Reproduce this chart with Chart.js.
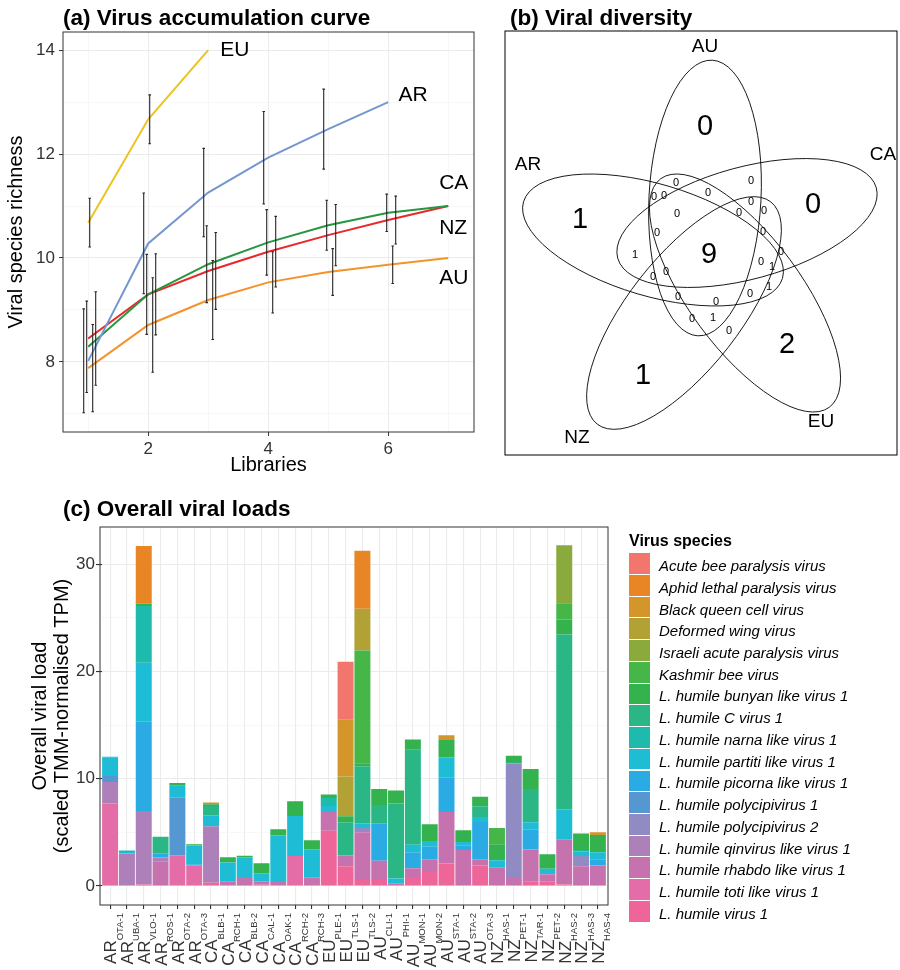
<!DOCTYPE html>
<html>
<head>
<meta charset="utf-8">
<script src="https://cdn.jsdelivr.net/npm/chart.js@4.4.1/dist/chart.umd.min.js"></script>
<style>
  body { margin: 0; background: #fff; font-family: "Liberation Sans", Arial, Helvetica, sans-serif; }
  #wrap { position: relative; width: 900px; height: 970px; overflow: hidden; }
  canvas { position: absolute; }
  #curve { left: 0; top: 0; }
  #venn { left: 490px; top: 0; }
  #loads { left: 0; top: 480px; }
  #legend { position: absolute; left: 629px; top: 531px; color: #000; }
  #legend .ttl { font-weight: bold; font-size: 16px; line-height: 20px; height: 22.3px; }
  #legend .item { display: flex; align-items: center; height: 21.73px; }
  #legend .box { width: 21px; height: 20.7px; margin-bottom: 1px; }
  #legend .txt { font-style: italic; font-size: 15px; margin-left: 9px; padding-top: 3px; }
</style>
</head>
<body>
<div id="wrap">
  <canvas id="curve" width="490" height="480"></canvas>
  <canvas id="venn" width="410" height="480"></canvas>
  <canvas id="loads" width="900" height="490"></canvas>
  <div id="legend"></div>
</div>
<script>
// (a) accumulation curves ---------------------
const libraries = [1, 2, 3, 4, 5, 6, 7];
const richnessAR = [8.02, 10.28, 11.26, 11.93, 12.48, 13.0];
const richnessAU = [7.88, 8.71, 9.19, 9.53, 9.73, 9.87, 10.0];
const richnessCA = [8.29, 9.3, 9.88, 10.3, 10.63, 10.87, 11.0];
const richnessEU = [10.68, 12.67, 14.0];
const richnessNZ = [8.45, 9.3, 9.75, 10.12, 10.44, 10.73, 11.0];
const sdAR = [1.0, 0.97, 0.85, 0.89, 0.77, null];
const sdAU = [0.84, 0.91, 0.76, 0.59, 0.45, 0.36, null];
const sdCA = [0.88, 0.77, 0.74, 0.63, 0.48, 0.36, null];
const sdEU = [0.47, 0.47, null];
const sdNZ = [0.9, 0.78, 0.74, 0.68, 0.59, 0.46, null];

// (b) venn counts -----------------------------
const vennSets = ["AU", "CA", "EU", "NZ", "AR"];
const uniqueCounts = [0, 0, 2, 1, 1]; // same order as vennSets
const sharedByAll = 9;
const overlapCounts = [0, 0, 0, 0, 0, 0, 0, 0, 0, 0, 0, 1, 0, 0, 1, 0, 0, 1, 0, 0, 0, 0, 1, 0];

// (c) viral loads -----------------------------
const regions = ["AR", "AR", "AR", "AR", "AR", "AR", "CA", "CA", "CA", "CA", "CA", "CA", "CA",
  "EU", "EU", "EU", "AU", "AU", "AU", "AU", "AU", "AU", "AU", "NZ", "NZ", "NZ", "NZ", "NZ", "NZ", "NZ"];
const sites = ["OTA-1", "UBA-1", "VLO-1", "ROS-1", "OTA-2", "OTA-3", "BLB-1", "RCH-1", "BLB-2", "CAL-1",
  "OAK-1", "RCH-2", "RCH-3", "PLE-1", "TLS-1", "TLS-2", "CLI-1", "PHI-1", "MON-1", "MON-2", "STA-1",
  "STA-2", "OTA-3", "HAS-1", "PET-1", "TAR-1", "PET-2", "HAS-2", "HAS-3", "HAS-4"];
const species = ["Acute bee paralysis virus", "Aphid lethal paralysis virus", "Black queen cell virus",
  "Deformed wing virus", "Israeli acute paralysis virus", "Kashmir bee virus", "L. humile bunyan like virus 1",
  "L. humile C virus 1", "L. humile narna like virus 1", "L. humile partiti like virus 1",
  "L. humile picorna like virus 1", "L. humile polycipivirus 1", "L. humile polycipivirus 2",
  "L. humile qinvirus like virus 1", "L. humile rhabdo like virus 1", "L. humile toti like virus 1",
  "L. humile virus 1"];
const abpv = [0,0,0,0,0,0,0,0,0,0,0,0,0,0,5.4,0,0,0,0,0,0,0,0,0,0,0,0,0,0,0];
const alpv = [0,0,5.4,0,0,0,0.18,0,0,0,0,0,0,0,0,5.4,0,0,0,0,0,0,0,0,0,0,0,0,0,0];
const bqcv = [0,0,0,0,0,0,0,0,0,0,0,0,0,0,5.3,0,0,0,0,0,0.45,0,0,0,0,0,0,0,0,0.25];
const dwv = [0,0,0,0,0,0,0,0,0,0,0,0,0,0,3.7,3.9,0,0,0,0,0,0,0,0,0,0,0,0,0,0];
const iapv = [0,0,0,0,0,0,0,0,0,0,0,0,0,0,0,0,0,0,0,0,0,0,0,0,0,0,0,5.4,0,0];
const kbv = [0,0,0,0,0,0,0,0,0,0,0,0,0,0,0,10.5,0,0,0,0,0,0,0,1.5,0,0,0,1.5,0,0];
const bunyan = [0,0,0.2,0,0.25,0.13,0.15,0.47,0.15,0.94,0.56,1.37,0.84,0.34,0.55,0.3,1.5,1.2,0.95,1.55,1.6,1.1,0.9,1.5,0.6,1.85,1.35,1.4,1.55,1.6];
const cVirus = [0,0,0,1.55,0,0,0.87,0,0,0,0,0,0,0,3.1,5.3,1.7,7.0,8.85,0,0,0,1.0,0,0.1,3.1,0,16.3,0.1,0];
const narna = [0.1,0.15,5.3,0,0,0,0,0,0,0,0,0,0,0.75,0,0,0,0,0,0,0,0,0,0,0,0,0,0,0,0];
const partiti = [1.7,0.15,5.5,0,1.12,1.74,1.03,1.8,1.93,0.74,4.35,3.72,2.64,0.56,0,0.45,0,0.5,0.7,0.55,1.9,0.3,0.47,0.65,0,0.7,0.5,2.8,0.45,0.65];
const picorna = [0,0,8.3,0.4,0,0.1,0,0,0,0,0,0,0,0,0,0,3.5,0,1.5,1.15,3.2,0.45,3.46,0,0,1.85,0,0,0,0.6];
const polycipi1 = [0.55,0,0,0,5.35,0,0,0,0,0,0,0,0,0,0,0,0,0,0,0,0,0,0,0,0,0,0,0,0,0];
const polycipi2 = [0,0,0,0,0,0,0,0,0,0,0,0,0,0,0,0.4,0,0,0,0,0,0,0,0,10.7,0,0,0,0.95,0];
const qinvirus = [2.0,3.02,6.85,0.35,0,0,5.26,0,0,0,0,0,0,0,0,0,0,0,0,0,0,0,0,0,0,0,0,0,0,0];
const rhabdo = [0,0,0,2.3,0,0,0,0.4,0.75,0.32,0.37,0,0.78,1.74,1.0,4.45,1.8,0.2,0.9,1.2,4.8,3.25,0.6,1.65,0.75,2.95,0.65,4.2,1.85,1.8];
const toti = [7.7,0,0,0,2.87,1.93,0,0,0,0,0,2.8,0,0,0,0,0,0,0,0,0,0,0,0,0,0,0,0,0,0];
const virus1 = [0,0,0.15,0,0,0,0.3,0,0,0.12,0,0,0,5.15,1.85,0.55,0.55,0,0.75,1.3,2.1,0.1,1.9,0.1,0,0.45,0.45,0.15,0,0.1];
const loads = [abpv, alpv, bqcv, dwv, iapv, kbv, bunyan, cVirus, narna, partiti, picorna,
  polycipi1, polycipi2, qinvirus, rhabdo, toti, virus1];
const speciesColors = ["#F2766E", "#E88626", "#D4952B", "#B2A235", "#8AAA3E", "#46B649", "#34B24E",
  "#2BB785", "#1EBBAC", "#1FBCD6", "#2BABE3", "#5597D1", "#908BC2", "#AE80B9", "#C672AE", "#E46CA7", "#EE6599"];

const FONT = "'Liberation Sans', Arial, Helvetica, sans-serif";
Chart.defaults.font.family = FONT;
Chart.defaults.color = "#333";
Chart.defaults.animation = false;
Chart.defaults.plugins.legend.display = false;
Chart.defaults.plugins.tooltip.enabled = false;

// shared plugins
const panelBorder = {
  id: "panelBorder",
  afterDraw(chart, args, opts) {
    const { ctx, chartArea: a } = chart;
    const out = opts.outset || 0;
    ctx.save();
    ctx.strokeStyle = opts.color || "#333";
    ctx.lineWidth = 1;
    ctx.strokeRect(a.left - out, a.top, a.right - a.left + 2 * out, a.bottom - a.top);
    ctx.restore();
  }
};
const panelTitle = {
  id: "panelTitle",
  afterDraw(chart, args, opts) {
    const ctx = chart.ctx;
    ctx.save();
    ctx.font = "bold 22.5px " + FONT;
    ctx.fillStyle = "#000";
    ctx.textBaseline = "alphabetic";
    ctx.fillText(opts.text, opts.x, opts.y);
    ctx.restore();
  }
};
const isMajor = (v, step) => Math.abs(v % step) < 1e-9;

//setup curves---------------------
!(function curves() {
  const series = [
    { name: "AR", values: richnessAR, sd: sdAR, color: "#7596CE", dodge: -0.075, lx: 6.17, ly: 13.13 },
    { name: "AU", values: richnessAU, sd: sdAU, color: "#F5922A", dodge: 0.075, lx: 6.85, ly: 9.62 },
    { name: "CA", values: richnessCA, sd: sdCA, color: "#27963F", dodge: -0.025, lx: 6.85, ly: 11.43 },
    { name: "EU", values: richnessEU, sd: sdEU, color: "#EBC421", dodge: 0.025, lx: 3.2, ly: 14.0 },
    { name: "NZ", values: richnessNZ, sd: sdNZ, color: "#E8292B", dodge: 0.125, lx: 6.85, ly: 10.58 }
  ];

  const errorBars = {
    id: "errorBars",
    afterDatasetsDraw(chart) {
      const { ctx, scales: { x, y } } = chart;
      ctx.save();
      ctx.strokeStyle = "#262626";
      ctx.lineWidth = 1.1;
      series.forEach(s => {
        s.sd.forEach((sd, i) => {
          if (sd == null) return;
          const px = x.getPixelForValue(libraries[i] + s.dodge);
          const top = y.getPixelForValue(s.values[i] + sd);
          const bot = y.getPixelForValue(s.values[i] - sd);
          ctx.beginPath();
          ctx.moveTo(px, top); ctx.lineTo(px, bot);
          ctx.moveTo(px - 1.3, top); ctx.lineTo(px + 1.3, top);
          ctx.moveTo(px - 1.3, bot); ctx.lineTo(px + 1.3, bot);
          ctx.stroke();
        });
      });
      ctx.restore();
    }
  };

  const endLabels = {
    id: "endLabels",
    afterDraw(chart) {
      const { ctx, scales: { x, y } } = chart;
      ctx.save();
      ctx.font = "21px " + FONT;
      ctx.fillStyle = "#000";
      ctx.textBaseline = "middle";
      series.forEach(s => ctx.fillText(s.name, x.getPixelForValue(s.lx), y.getPixelForValue(s.ly)));
      ctx.restore();
    }
  };

  const gridColor = c => (c.tick && isMajor(c.tick.value, 2) ? "#EBEBEB" : "#F2F2F2");
  const gridWidth = c => (c.tick && isMajor(c.tick.value, 2) ? 1.1 : 0.6);
  const tickColor = c => (c.tick && isMajor(c.tick.value, 2) ? "#333" : "rgba(0,0,0,0)");

  const config = {
    type: "line",
    data: {
      datasets: series.map(s => ({
        label: s.name,
        data: s.values.map((v, i) => ({ x: libraries[i], y: v })),
        borderColor: s.color,
        borderWidth: 2,
        pointRadius: 0,
        fill: false,
        tension: 0
      }))
    },
    options: {
      responsive: false,
      events: [],
      layout: { padding: { left: 0, right: 16, top: 32, bottom: 0 } },
      scales: {
        x: {
          type: "linear", min: 0.58, max: 7.43,
          afterBuildTicks: s => { s.ticks = libraries.map(v => ({ value: v })); },
          afterFit: s => { s.height = 48; },
          border: { display: false },
          grid: { color: gridColor, lineWidth: gridWidth, tickColor: tickColor, tickLength: 4, tickWidth: 1 },
          ticks: { autoSkip: false, maxRotation: 0, padding: 3, color: "#333", font: { size: 17 },
            callback: v => (isMajor(v, 2) ? v : "") },
          title: { display: true, text: "Libraries", color: "#000", font: { size: 20 }, padding: { top: 0, bottom: 3 } }
        },
        y: {
          min: 6.65, max: 14.35,
          afterBuildTicks: s => { s.ticks = [7, 8, 9, 10, 11, 12, 13, 14].map(v => ({ value: v })); },
          afterFit: s => { s.width = 63; },
          border: { display: false },
          grid: { color: gridColor, lineWidth: gridWidth, tickColor: tickColor, tickLength: 4, tickWidth: 1 },
          ticks: { autoSkip: false, padding: 4, color: "#333", font: { size: 17 },
            callback: v => (isMajor(v, 2) ? v : "") },
          title: { display: true, text: "Viral species richness", color: "#000", font: { size: 20 }, padding: { top: 4, bottom: 0 } }
        }
      },
      plugins: {
        panelTitle: { text: "(a) Virus accumulation curve", x: 63, y: 24.5 },
        panelBorder: { color: "#333" }
      }
    },
    plugins: [errorBars, endLabels, panelBorder, panelTitle]
  };

  new Chart(document.getElementById("curve"), config);
})();

//setup venn---------------------
!(function venn() {
  // ellipse geometry in panel units (1 unit = 1 px, origin bottom-left)
  const ellipses = {
    AU: { cx: 200, cy: 257, a: 138, b: 56, angle: 87 },
    CA: { cx: 242, cy: 232, a: 134, b: 56, angle: 15.2 },
    EU: { cx: 240, cy: 162, a: 142, b: 56, angle: -53.6 },
    NZ: { cx: 179, cy: 142, a: 141, b: 56, angle: 52 },
    AR: { cx: 148, cy: 215, a: 135, b: 56, angle: -16.5 }
  };
  const setLabelPos = { AU: [200, 408], CA: [378, 300], EU: [316, 33], NZ: [72, 17], AR: [23, 290] };
  const uniquePos = { AU: [200, 328], CA: [308, 250], EU: [282, 110], NZ: [138, 79], AR: [75, 235] };
  const centrePos = [204, 200];
  const overlapPos = [[171, 272], [149, 258], [159, 259], [203, 262], [246, 274], [246, 253], [259, 244],
    [172, 241], [234, 242], [152, 222], [258, 223], [130, 200], [276, 203], [256, 193], [267, 188],
    [161, 183], [148, 178], [264, 168], [245, 161], [173, 158], [211, 153], [187, 136], [208, 137], [224, 124]];

  const points = [];
  vennSets.forEach((s, i) => points.push({ x: uniquePos[s][0], y: uniquePos[s][1], n: uniqueCounts[i], big: true }));
  points.push({ x: centrePos[0], y: centrePos[1], n: sharedByAll, big: true });
  overlapCounts.forEach((n, i) => points.push({ x: overlapPos[i][0], y: overlapPos[i][1], n: n, big: false }));

  const vennDraw = {
    id: "vennDraw",
    afterDatasetsDraw(chart) {
      const { ctx, scales: { x, y } } = chart;
      ctx.save();
      ctx.strokeStyle = "#000";
      ctx.lineWidth = 0.9;
      vennSets.forEach(s => {
        const e = ellipses[s];
        ctx.beginPath();
        ctx.ellipse(x.getPixelForValue(e.cx), y.getPixelForValue(e.cy),
          x.getPixelForValue(e.a) - x.getPixelForValue(0), y.getPixelForValue(0) - y.getPixelForValue(e.b),
          -e.angle * Math.PI / 180, 0, 2 * Math.PI);
        ctx.stroke();
      });
      ctx.fillStyle = "#000";
      ctx.textAlign = "center";
      ctx.textBaseline = "middle";
      const meta = chart.getDatasetMeta(0);
      meta.data.forEach((el, i) => {
        const p = chart.data.datasets[0].data[i];
        ctx.font = (p.big ? "29px " : "11px ") + FONT;
        ctx.fillText(String(p.n), el.x, el.y);
      });
      ctx.font = "19px " + FONT;
      vennSets.forEach(s => ctx.fillText(s, x.getPixelForValue(setLabelPos[s][0]), y.getPixelForValue(setLabelPos[s][1])));
      ctx.restore();
    }
  };

  new Chart(document.getElementById("venn"), {
    type: "scatter",
    data: { datasets: [{ data: points, pointRadius: 0 }] },
    options: {
      responsive: false,
      events: [],
      layout: { padding: { left: 15, right: 3, top: 31, bottom: 25 } },
      scales: {
        x: { display: false, min: 0, max: 392 },
        y: { display: false, min: 0, max: 424 }
      },
      plugins: {
        panelTitle: { text: "(b) Viral diversity", x: 20, y: 24.5 },
        panelBorder: { color: "#000" }
      }
    },
    plugins: [vennDraw, panelBorder, panelTitle]
  });
})();

//setup loads---------------------
!(function viralLoads() {
  const xLabels = {
    id: "xLabels",
    afterDraw(chart) {
      const { ctx, scales: { x }, chartArea } = chart;
      ctx.save();
      ctx.fillStyle = "#333";
      ctx.textAlign = "right";
      ctx.textBaseline = "alphabetic";
      regions.forEach((r, i) => {
        const px = x.getPixelForTick(i);
        ctx.save();
        ctx.translate(px, chartArea.bottom + 8);
        ctx.rotate(-Math.PI / 2);
        ctx.font = "9.5px " + FONT;
        const sw = ctx.measureText(sites[i]).width;
        ctx.fillText(sites[i], 0, 12.5);
        ctx.font = "17px " + FONT;
        ctx.fillText(r, -sw, 6.3);
        ctx.restore();
      });
      ctx.restore();
    }
  };

  const datasets = species.map((name, k) => ({
    label: name,
    data: loads[k],
    backgroundColor: speciesColors[k],
    borderWidth: 0,
    barPercentage: 0.95,
    categoryPercentage: 1
  })).reverse();

  const config = {
    type: "bar",
    data: { labels: sites.map((s, i) => regions[i] + " " + s), datasets: datasets },
    options: {
      responsive: false,
      events: [],
      // plot panel drawn 1.7px wider than the category range (ggplot discrete expansion)
      layout: { padding: { left: 0, right: 293.7, top: 47, bottom: 0 } },
      scales: {
        x: {
          stacked: true,
          offset: true,
          afterFit: s => { s.height = 65; },
          border: { display: false },
          grid: { offset: false, color: "#EBEBEB", lineWidth: 1.1, tickColor: "#333", tickLength: 4 },
          ticks: { display: false, autoSkip: false }
        },
        y: {
          stacked: true,
          min: -1.77, max: 33.46,
          afterBuildTicks: s => { s.ticks = [0, 5, 10, 15, 20, 25, 30].map(v => ({ value: v })); },
          afterFit: s => { s.width = 101.7; },
          border: { display: false },
          grid: {
            color: c => (c.tick && isMajor(c.tick.value, 10) ? "#EBEBEB" : "#F2F2F2"),
            lineWidth: c => (c.tick && isMajor(c.tick.value, 10) ? 1.1 : 0.6),
            tickColor: c => (c.tick && isMajor(c.tick.value, 10) ? "#333" : "rgba(0,0,0,0)"),
            tickLength: 5.7
          },
          ticks: { autoSkip: false, padding: 1, color: "#333", font: { size: 17 },
            callback: v => (isMajor(v, 10) ? v : "") },
          title: {
            display: true,
            text: ["Overall viral load", "(scaled TMM-normalised TPM)"],
            color: "#000",
            font: { size: 20, lineHeight: 1.1 },
            padding: { top: 29, bottom: 0 }
          }
        }
      },
      plugins: {
        panelTitle: { text: "(c) Overall viral loads", x: 63, y: 36 },
        panelBorder: { color: "#333", outset: 1.7 }
      }
    },
    plugins: [xLabels, panelBorder, panelTitle]
  };

  new Chart(document.getElementById("loads"), config);

  // legend in the ggplot order
  const legend = document.getElementById("legend");
  let html = '<div class="ttl">Virus species</div>';
  species.forEach((name, k) => {
    html += '<div class="item"><div class="box" style="background:' + speciesColors[k] + '"></div>' +
      '<div class="txt">' + name + '</div></div>';
  });
  legend.innerHTML = html;
})();
</script>
</body>
</html>
